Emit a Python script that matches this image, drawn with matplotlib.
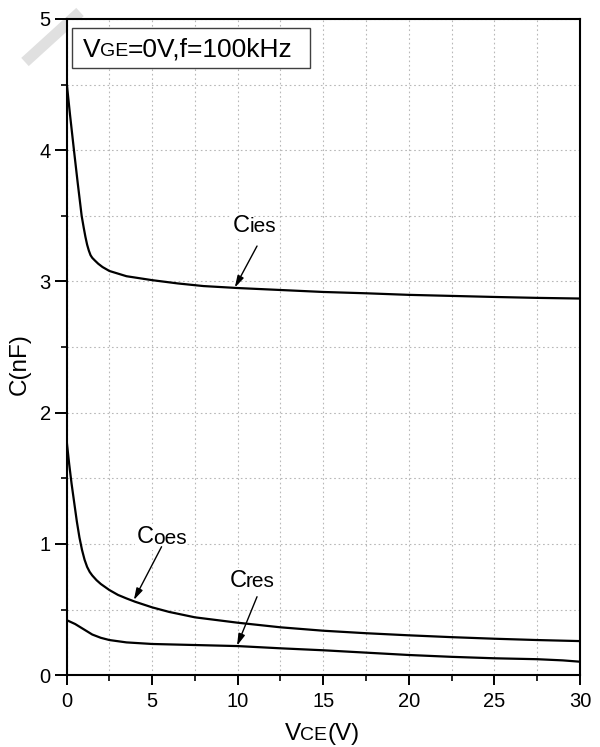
#!/usr/bin/env python3

'''
Capacitance vs collector-emitter voltage (Cies, Coes, Cres).
'''

import numpy as np
import matplotlib
matplotlib.use('Agg')
import matplotlib.pyplot as pl
from matplotlib.ticker import MultipleLocator
from matplotlib.patches import Rectangle
from matplotlib.lines import Line2D

pl.rcParams['font.family'] = ['Liberation Sans', 'DejaVu Sans']

# Curve data, V in volts and C in nF
v_ies = [0, 0.2, 0.43, 0.65, 0.88, 1.0, 1.1, 1.2, 1.3, 1.4, 1.5, 1.65, 1.85, 2.1, 2.5,
         3.5, 5, 6.5, 8, 10, 12.5, 15, 17.5, 20, 22.5, 25, 27.5, 30]
c_ies = [4.52, 4.27, 4.0, 3.75, 3.5, 3.41, 3.34, 3.28, 3.235, 3.2, 3.18, 3.16, 3.135, 3.11, 3.08,
         3.04, 3.01, 2.985, 2.965, 2.95, 2.935, 2.92, 2.91, 2.898, 2.89, 2.882, 2.875, 2.87]

v_oes = [0, 0.15, 0.29, 0.45, 0.6, 0.75, 0.9, 1.05, 1.2, 1.35, 1.5, 1.75, 2.0, 2.5, 3.0,
         3.5, 4.0, 5, 6, 7.5, 10, 12.5, 15, 17.5, 20, 22.5, 25, 27.5, 30]
c_oes = [1.79, 1.61, 1.46, 1.31, 1.17, 1.05, 0.955, 0.88, 0.825, 0.787, 0.76, 0.724, 0.695, 0.649, 0.612,
         0.585, 0.56, 0.517, 0.482, 0.441, 0.40, 0.365, 0.339, 0.32, 0.304, 0.29, 0.278, 0.268, 0.26]

v_res = [0, 0.5, 1.0, 1.5, 2.0, 2.5, 3.5, 5, 7.5, 10, 12.5, 15, 17.5,
         20, 22.5, 25, 27.5, 29, 30]
c_res = [0.42, 0.39, 0.35, 0.31, 0.285, 0.268, 0.25, 0.238, 0.23, 0.222, 0.205, 0.19, 0.172,
         0.154, 0.14, 0.129, 0.122, 0.113, 0.103]

# label text, text position, arrow tail, arrow tip
labels = [('C', 'ies', (9.73, 3.378), (11.13, 3.27), (9.83, 2.954)),
          ('C', 'oes', (4.10, 1.005), (5.55, 0.979), (3.93, 0.573)),
          ('C', 'res', (9.51, 0.674), (11.13, 0.598), (9.96, 0.225))]

def chain(ax, parts, xy, coords, zorder=3, bg=False):
    '''
    Writes pieces of text of different sizes on one baseline.
    '''
    size0 = parts[0][1]
    kw = {}
    if bg:
        kw['bbox'] = dict(facecolor='white', edgecolor='none', pad=1.5)
    t = ax.text(xy[0], xy[1], parts[0][0], fontsize=size0, va='baseline',
                ha='left', transform=coords, zorder=zorder, **kw)
    prev = t
    for s, fs in parts[1:]:
        if bg:
            kw['bbox'] = dict(facecolor='white', edgecolor='none', pad=0.2)
        dy = 0.21*(size0 - fs)
        prev = ax.annotate(s, xy=(1, 0), xycoords=prev, xytext=(-0.3, dy),
                           textcoords='offset points', fontsize=fs,
                           va='bottom', ha='left', zorder=zorder+0.5, **kw)
        size0 = fs
    return t

fig = pl.figure(figsize=(6.0, 7.47), dpi=100)
ax = fig.add_axes([0.111, 0.0961, 0.8555, 0.8785])

for v, c in [(v_ies, c_ies), (v_oes, c_oes), (v_res, c_res)]:
    ax.plot(v, c, color='k', lw=1.6, zorder=3, solid_joinstyle='round')

ax.set_xlim(0, 30)
ax.set_ylim(0, 5)
ax.xaxis.set_major_locator(MultipleLocator(5))
ax.xaxis.set_minor_locator(MultipleLocator(2.5))
ax.yaxis.set_major_locator(MultipleLocator(1))
ax.yaxis.set_minor_locator(MultipleLocator(0.5))
ax.tick_params(which='major', direction='out', length=8.5, width=1.4,
               labelsize=14.5, pad=3)
ax.tick_params(which='minor', direction='out', length=4.5, width=1.2)
ax.tick_params(axis='x', which='major', length=7.5, pad=4.5)
ax.grid(which='both', color='#b8b8b8', lw=0.8, ls=(0, (1.5, 2.5)))
ax.set_axisbelow(True)
for sp in ax.spines.values():
    sp.set_linewidth(1.5)

for big, small, txy, tail, tip in labels:
    chain(ax, [(big, 17), (small, 15)], txy, ax.transData, zorder=4, bg=True)
    ax.annotate('', xy=tip, xytext=tail,
                arrowprops=dict(arrowstyle='-|>,head_length=0.7,head_width=0.2',
                                color='k', lw=1.0, shrinkA=0, shrinkB=0),
                zorder=5)

# condition box
ax.add_patch(Rectangle((0.0097, 0.9251), 0.4643, 0.061, transform=ax.transAxes,
                       facecolor='white', edgecolor='#404040', lw=1.0, zorder=4))
chain(ax, [('V', 19), ('GE', 14), ('=0V,f=100kHz', 19)], (0.0323, 0.9428),
      ax.transAxes, zorder=5)

# axis labels
chain(ax, [('V', 17.5), ('CE', 14), ('(V)', 17.5)], (0.425, -0.0988), ax.transAxes)
fig.text(19.5/600, 1-364/747, 'C(nF)', rotation=90, ha='center', va='center',
         fontsize=17.5)

# faint stroke in the upper left corner
fig.add_artist(Line2D(np.array([25, 80])/600, 1-np.array([62, 12])/747,
                      color='#e0e0e0', lw=8, solid_capstyle='butt', zorder=0))

fig.savefig('out.png', dpi=100)
